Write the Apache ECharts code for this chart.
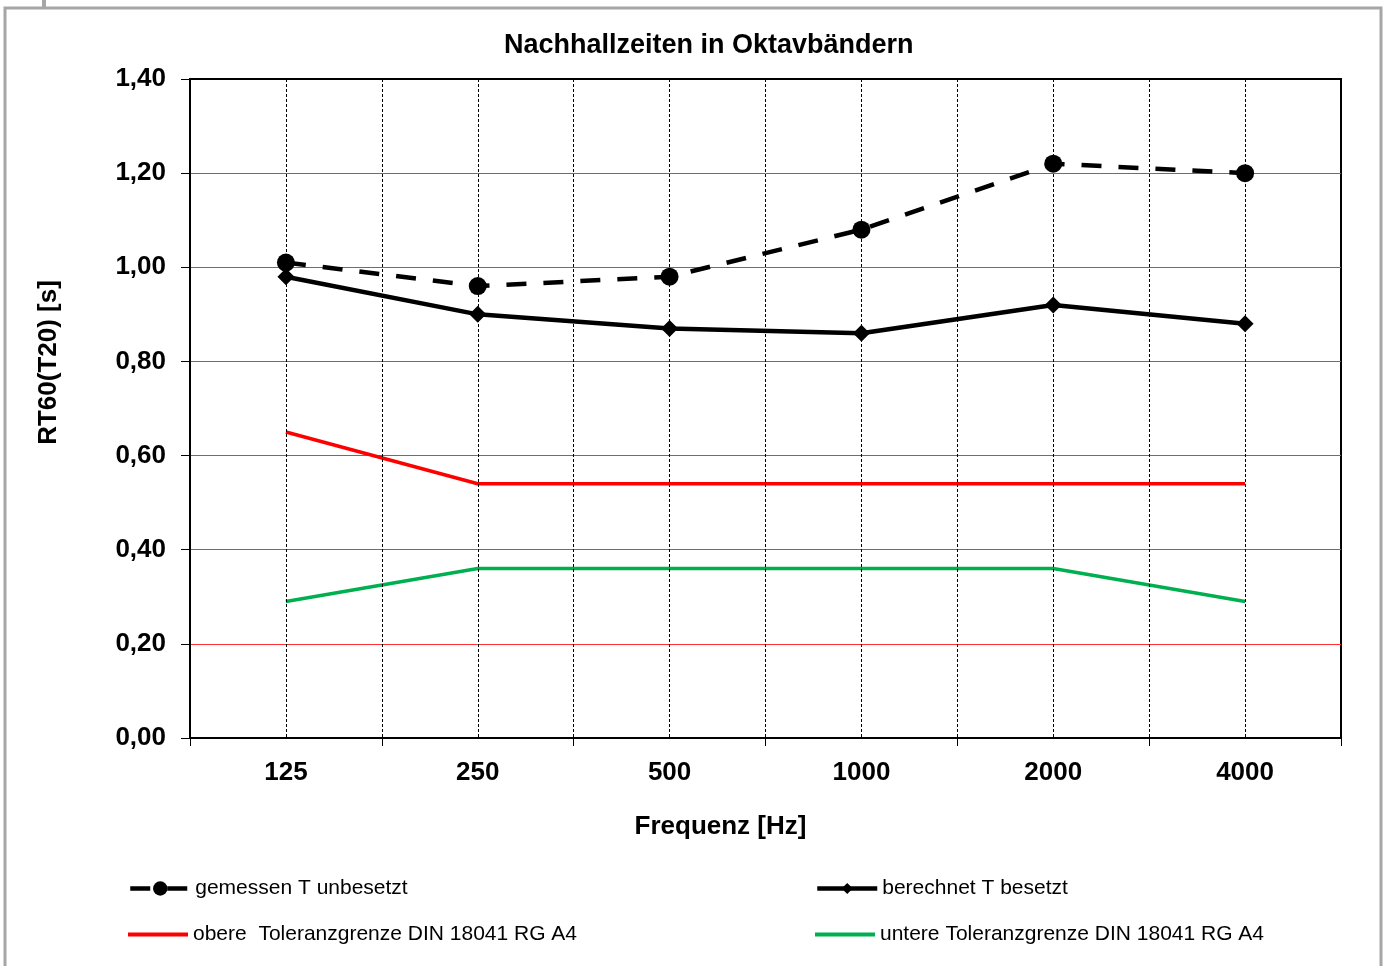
<!DOCTYPE html>
<html>
<head>
<meta charset="utf-8">
<script src="https://cdn.jsdelivr.net/npm/echarts@6/dist/echarts.min.js"></script>
<style>
  html, body { margin: 0; padding: 0; background: #fff; }
  #chart { width: 1384px; height: 966px; }
</style>
</head>
<body>
<div id="chart"></div>
<script>
// Oktavband-Mittenfrequenzen
var frequenzen = ['125', '250', '500', '1000', '2000', '4000'];
// Messwerte / Rechenwerte in s
var gemessenUnbesetzt = [1.01, 0.96, 0.98, 1.08, 1.22, 1.20];
var berechnetBesetzt = [0.98, 0.90, 0.87, 0.86, 0.92, 0.88];
var obereGrenze = [0.65, 0.54, 0.54, 0.54, 0.54, 0.54];
var untereGrenze = [0.29, 0.36, 0.36, 0.36, 0.36, 0.29];

var fontFam = 'Liberation Sans, Arial, sans-serif';

var myChart = echarts.init(document.getElementById('chart'));

// one legend per entry, so each sits where Excel put it
var legendItem = function (name, left, top, extra) {
    var l = {
        data: [name],
        left: left,
        top: top,
        padding: 0,
        itemWidth: 60,
        itemHeight: 18,
        itemGap: 5,
        selectedMode: false,
        textStyle: { fontFamily: fontFam, fontSize: 21, color: '#000' }
    };
    for (var k in extra) l[k] = extra[k];
    return l;
};

var option = {
    animation: false,
    backgroundColor: '#fff',
    title: {
        text: 'Nachhallzeiten in Oktavbändern',
        left: 499,
        top: 27,
        textStyle: { fontFamily: fontFam, fontSize: 27, fontWeight: 'bold', color: '#000' }
    },
    legend: [
        legendItem('gemessen T unbesetzt', 128, 878, { lineStyle: { width: 4.5 } }),
        legendItem('berechnet T besetzt', 815, 878, { lineStyle: { width: 4.5 }, itemHeight: 14 }),
        legendItem('obere  Toleranzgrenze DIN 18041 RG A4', 128, 924, {
            icon: 'rect', itemHeight: 4
        }),
        legendItem('untere Toleranzgrenze DIN 18041 RG A4', 815, 924, {
            icon: 'rect', itemHeight: 4
        })
    ],
    grid: {
        left: 190,
        right: 43,
        top: 79,
        bottom: 228,
        show: true,
        borderColor: '#000',
        borderWidth: 2
    },
    xAxis: [
        {
            type: 'category',
            data: frequenzen,
            boundaryGap: true,
            name: 'Frequenz [Hz]',
            nameLocation: 'middle',
            nameGap: 76,
            nameTextStyle: { fontFamily: fontFam, fontSize: 26, fontWeight: 'bold', color: '#000', padding: [0, 90, 0, 0] },
            axisLine: { lineStyle: { color: '#000', width: 2 } },
            axisTick: { show: true, length: 8, lineStyle: { color: '#000', width: 1 } },
            axisLabel: { fontFamily: fontFam, fontSize: 26, fontWeight: 'bold', color: '#000', margin: 22 },
            splitLine: { show: false }
        },
        {
            // only carries the dotted vertical grid (category centres and edges)
            type: 'value',
            position: 'top',
            min: 0,
            max: 12,
            interval: 1,
            z: 3,
            axisLine: { show: false },
            axisTick: { show: false },
            axisLabel: { show: false },
            splitLine: {
                show: true,
                showMinLine: false,
                showMaxLine: false,
                lineStyle: { color: '#000', width: 1, type: [3, 2] }
            }
        }
    ],
    yAxis: {
        type: 'value',
        min: 0,
        max: 1.4,
        interval: 0.2,
        name: 'RT60(T20) [s]',
        nameLocation: 'middle',
        nameGap: 128,
        nameRotate: 90,
        nameTextStyle: { fontFamily: fontFam, fontSize: 26, fontWeight: 'bold', color: '#000', padding: [0, 0, 0, 92] },
        axisLine: { show: true, lineStyle: { color: '#000', width: 2 } },
        axisTick: { show: true, length: 9, lineStyle: { color: '#000', width: 1 } },
        axisLabel: {
            fontFamily: fontFam, fontSize: 26, fontWeight: 'bold', color: '#000', margin: 24,
            formatter: function (v) { return v.toFixed(2).replace('.', ','); }
        },
        splitLine: {
            show: true,
            showMinLine: false,
            showMaxLine: false,
            lineStyle: { color: '#ff3030', width: 1 }
        }
    },
    graphic: [
        {
            type: 'rect',
            shape: { x: 5, y: 8, width: 1376, height: 970 },
            style: { fill: 'none', stroke: '#a6a6a6', lineWidth: 3 },
            silent: true
        },
        {
            type: 'rect',
            shape: { x: 42, y: 0, width: 4, height: 7 },
            style: { fill: '#a6a6a6' },
            silent: true
        }
    ],
    series: [
        {
            name: 'obere  Toleranzgrenze DIN 18041 RG A4',
            type: 'line',
            data: obereGrenze,
            symbol: 'none',
            itemStyle: { color: '#ff0000' },
            lineStyle: { color: '#ff0000', width: 3.5 },
            z: 2
        },
        {
            name: 'untere Toleranzgrenze DIN 18041 RG A4',
            type: 'line',
            data: untereGrenze,
            symbol: 'none',
            itemStyle: { color: '#00b050' },
            lineStyle: { color: '#00b050', width: 3.5 },
            z: 2
        },
        {
            name: 'berechnet T besetzt',
            type: 'line',
            data: berechnetBesetzt,
            symbol: 'diamond',
            symbolSize: 17,
            itemStyle: { color: '#000' },
            lineStyle: { color: '#000', width: 4.5 },
            z: 4
        },
        {
            name: 'gemessen T unbesetzt',
            type: 'line',
            data: gemessenUnbesetzt,
            symbol: 'circle',
            symbolSize: 18,
            itemStyle: { color: '#000' },
            lineStyle: { color: '#000', width: 4.5, type: [20, 17] },
            z: 5
        }
    ]
};

myChart.setOption(option);
window.onresize = myChart.resize;
</script>
</body>
</html>
